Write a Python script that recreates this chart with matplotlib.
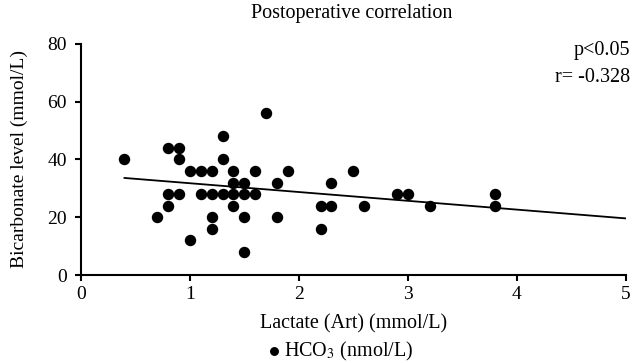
import numpy as np
import matplotlib
matplotlib.use("Agg")
import matplotlib.pyplot as plt

# Postoperative lactate vs. bicarbonate
lactate = [0.4, 0.7, 0.8, 0.9, 0.9, 0.8, 0.9, 0.8, 1.0, 1.1, 1.2, 1.3, 1.3,
           1.4, 1.4, 1.5, 1.6, 1.7, 1.8, 1.9, 1.1, 1.2, 1.3, 1.4, 1.5, 1.6,
           1.4, 1.2, 1.2, 1.0, 1.5, 1.5, 1.8, 2.2, 2.3, 2.3, 2.2, 2.5, 2.6,
           2.9, 3.0, 3.2, 3.8, 3.8]
hco3 = [40, 20, 44, 44, 40, 28, 28, 24, 36, 36, 36, 48, 40,
        36, 32, 32, 36, 56, 32, 36, 28, 28, 28, 28, 28, 28,
        24, 20, 16, 12, 20, 8, 20, 24, 24, 32, 16, 36, 24,
        28, 28, 24, 28, 24]

# regression line end points as drawn
fit_x = [0.4, 5.0]
fit_y = [33.6, 19.6]

xticks = [0, 1, 2, 3, 4, 5]
yticks = [0, 20, 40, 60, 80]

plt.rcParams["font.family"] = ["Liberation Serif", "DejaVu Serif"]
plt.rcParams["mathtext.fontset"] = "stix"

fig = plt.figure(figsize=(6.32, 3.63), dpi=100)
ax = fig.add_axes([0.128, 0.2424, 0.862, 0.6366])

ax.scatter(lactate, hco3, s=52, color="black", zorder=3, clip_on=False,
           label=r"HCO$_3$ (nmol/L)")
ax.plot(fit_x, fit_y, color="black", lw=1.3)

ax.set_xlim(0, 5)
ax.set_ylim(0, 80)
ax.set_xticks(xticks)
ax.set_yticks(yticks)
ax.tick_params(labelsize=14, width=1.5, length=4, direction="out")
ax.tick_params(axis="x", pad=4)
ax.tick_params(axis="y", pad=6)
for side in ["top", "right"]:
    ax.spines[side].set_visible(False)
for side in ["left", "bottom"]:
    ax.spines[side].set_linewidth(1.5)

ax.set_xlabel("Lactate (Art) (mmol/L)", fontsize=14.5, labelpad=8)
ax.set_ylabel("Bicarbonate level (mmol/L)", fontsize=14, labelpad=14)
fig.text(0.557, 0.962, "Postoperative correlation", fontsize=14.5,
         ha="center", va="center")

fig.text(0.997, 1 - 50 / 363, "p<0.05", fontsize=14.5,
         ha="right", va="center")
fig.text(0.997, 1 - 78 / 363, "r= -0.328", fontsize=14.5,
         ha="right", va="center")

fig.legend(loc="center", bbox_to_anchor=(0.538, 0.033), frameon=False,
           fontsize=14.5, handletextpad=0.1, handlelength=0.8,
           markerscale=0.75)

fig.savefig("out.png", dpi=100)
